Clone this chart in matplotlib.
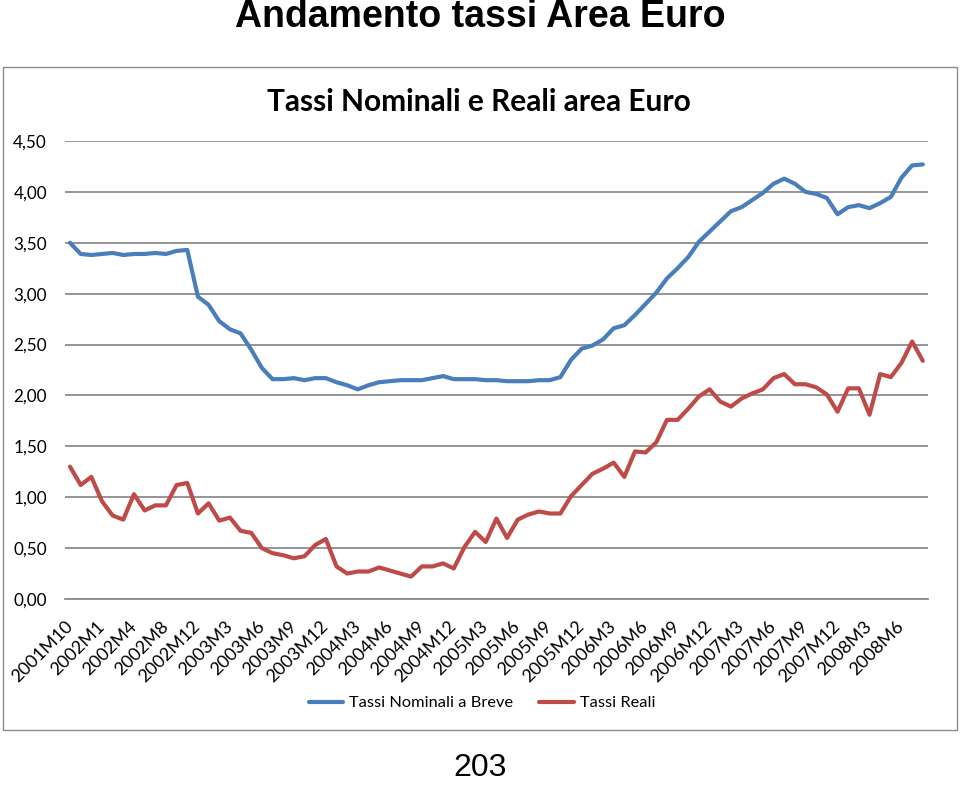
import matplotlib
matplotlib.use("Agg")
import matplotlib.pyplot as plt
from matplotlib.patches import Rectangle

# ---- data ----
months_2001 = ["2001M10", "2001M11", "2001M12"]
months_2002 = ["2002M1", "2002M2", "2002M3", "2002M4", "2002M5", "2002M6",
               "2002M8", "2002M9", "2002M10", "2002M12"]
later_years = [2003, 2004, 2005, 2006, 2007]
months_2008 = ["2008M%d" % m for m in range(1, 9)]
categories = months_2001 + months_2002 + \
    ["%dM%d" % (y, m) for y in later_years for m in range(1, 13)] + months_2008

nominali = [3.50, 3.39, 3.38, 3.39, 3.40, 3.38, 3.39, 3.39, 3.40, 3.39,
            3.42, 3.43, 2.97, 2.89, 2.73, 2.65, 2.61, 2.45, 2.27, 2.16,
            2.16, 2.17, 2.15, 2.17, 2.17, 2.13, 2.10, 2.06, 2.10, 2.13,
            2.14, 2.15, 2.15, 2.15, 2.17, 2.19, 2.16, 2.16, 2.16, 2.15,
            2.15, 2.14, 2.14, 2.14, 2.15, 2.15, 2.18, 2.35, 2.46, 2.49,
            2.55, 2.66, 2.69, 2.79, 2.90, 3.01, 3.15, 3.25, 3.36, 3.51,
            3.61, 3.71, 3.81, 3.85, 3.92, 3.99, 4.08, 4.13, 4.08, 4.00,
            3.98, 3.94, 3.78, 3.85, 3.87, 3.84, 3.89, 3.95, 4.14, 4.26,
            4.27]
reali = [1.30, 1.12, 1.20, 0.96, 0.82, 0.78, 1.03, 0.87, 0.92, 0.92,
         1.12, 1.14, 0.84, 0.94, 0.77, 0.80, 0.67, 0.65, 0.50, 0.45,
         0.43, 0.40, 0.42, 0.53, 0.59, 0.32, 0.25, 0.27, 0.27, 0.31,
         0.28, 0.25, 0.22, 0.32, 0.32, 0.35, 0.30, 0.51, 0.66, 0.56,
         0.79, 0.60, 0.78, 0.83, 0.86, 0.84, 0.84, 1.01, 1.12, 1.23,
         1.28, 1.34, 1.20, 1.45, 1.44, 1.54, 1.76, 1.76, 1.87, 1.99,
         2.06, 1.94, 1.89, 1.97, 2.02, 2.06, 2.17, 2.21, 2.11, 2.11,
         2.08, 2.01, 1.84, 2.07, 2.07, 1.81, 2.21, 2.18, 2.32, 2.53,
         2.34]
y_ticks = [0.0, 0.5, 1.0, 1.5, 2.0, 2.5, 3.0, 3.5, 4.0, 4.5]
series_names = ["Tassi Nominali a Breve", "Tassi Reali"]
main_title = "Andamento tassi Area Euro"
chart_title = "Tassi Nominali e Reali area Euro"
page_number = "203"

# ---- figure ----
W, H = 960, 785
fig = plt.figure(figsize=(W / 100, H / 100), dpi=100)
FONT = "Lato"

def fx(px):
    return px / W

def fy(py):
    return 1 - py / H

# chart frame
fig.patches.append(Rectangle((fx(3), fy(730)), fx(957) - fx(3), fy(67) - fy(730),
                             transform=fig.transFigure, fill=False,
                             edgecolor="#8c8c8c", linewidth=1.0))

ax = fig.add_axes([fx(65), fy(599), fx(927.7) - fx(65), fy(141) - fy(599)])
x = list(range(len(categories)))
ax.plot(x, nominali, color="#4A7EBB", linewidth=3.0, solid_joinstyle="round",
        solid_capstyle="round", label=series_names[0], zorder=3)
ax.plot(x, reali, color="#BE4B48", linewidth=3.0, solid_joinstyle="round",
        solid_capstyle="round", label=series_names[1], zorder=3)

ax.set_xlim(-0.47, len(categories) - 1 + 0.46)
ax.set_ylim(0, 4.5)
ax.set_yticks(y_ticks)
ax.set_yticklabels([("%.2f" % v).replace(".", ",") for v in y_ticks],
                   fontsize=12.3, fontfamily=FONT)
ax.yaxis.grid(True, color="#8c8c8c", linewidth=1.3)
ax.set_axisbelow(True)
for s in ["top", "right", "left"]:
    ax.spines[s].set_visible(False)
ax.spines["bottom"].set_color("#8c8c8c")
ax.spines["bottom"].set_linewidth(1.3)
ax.tick_params(axis="y", length=0, pad=13)

tick_idx = list(range(0, len(categories), 3))
ax.set_xticks(tick_idx)
ax.set_xticklabels([categories[i] for i in tick_idx], rotation=45, ha="right",
                   va="center", rotation_mode="anchor", fontsize=13,
                   fontfamily=FONT)
ax.tick_params(axis="x", length=0, pad=18)

fig.text(0.5, fy(27), main_title, ha="center", va="baseline",
         fontsize=27, fontweight="bold", fontfamily="Liberation Sans")
fig.text(fx(479), fy(111), chart_title, ha="center", va="baseline",
         fontsize=21.5, fontweight="bold", fontfamily=FONT)
fig.text(fx(480), fy(776), page_number, ha="center", va="baseline",
         fontsize=23, fontfamily="Liberation Sans")

fig.legend(loc="center", bbox_to_anchor=(fx(482), fy(703)), ncol=2,
           frameon=False, prop={"family": FONT, "size": 11.8},
           handlelength=2.1, columnspacing=1.6, handletextpad=0.35)

fig.savefig("out.png", dpi=100, facecolor="white")
